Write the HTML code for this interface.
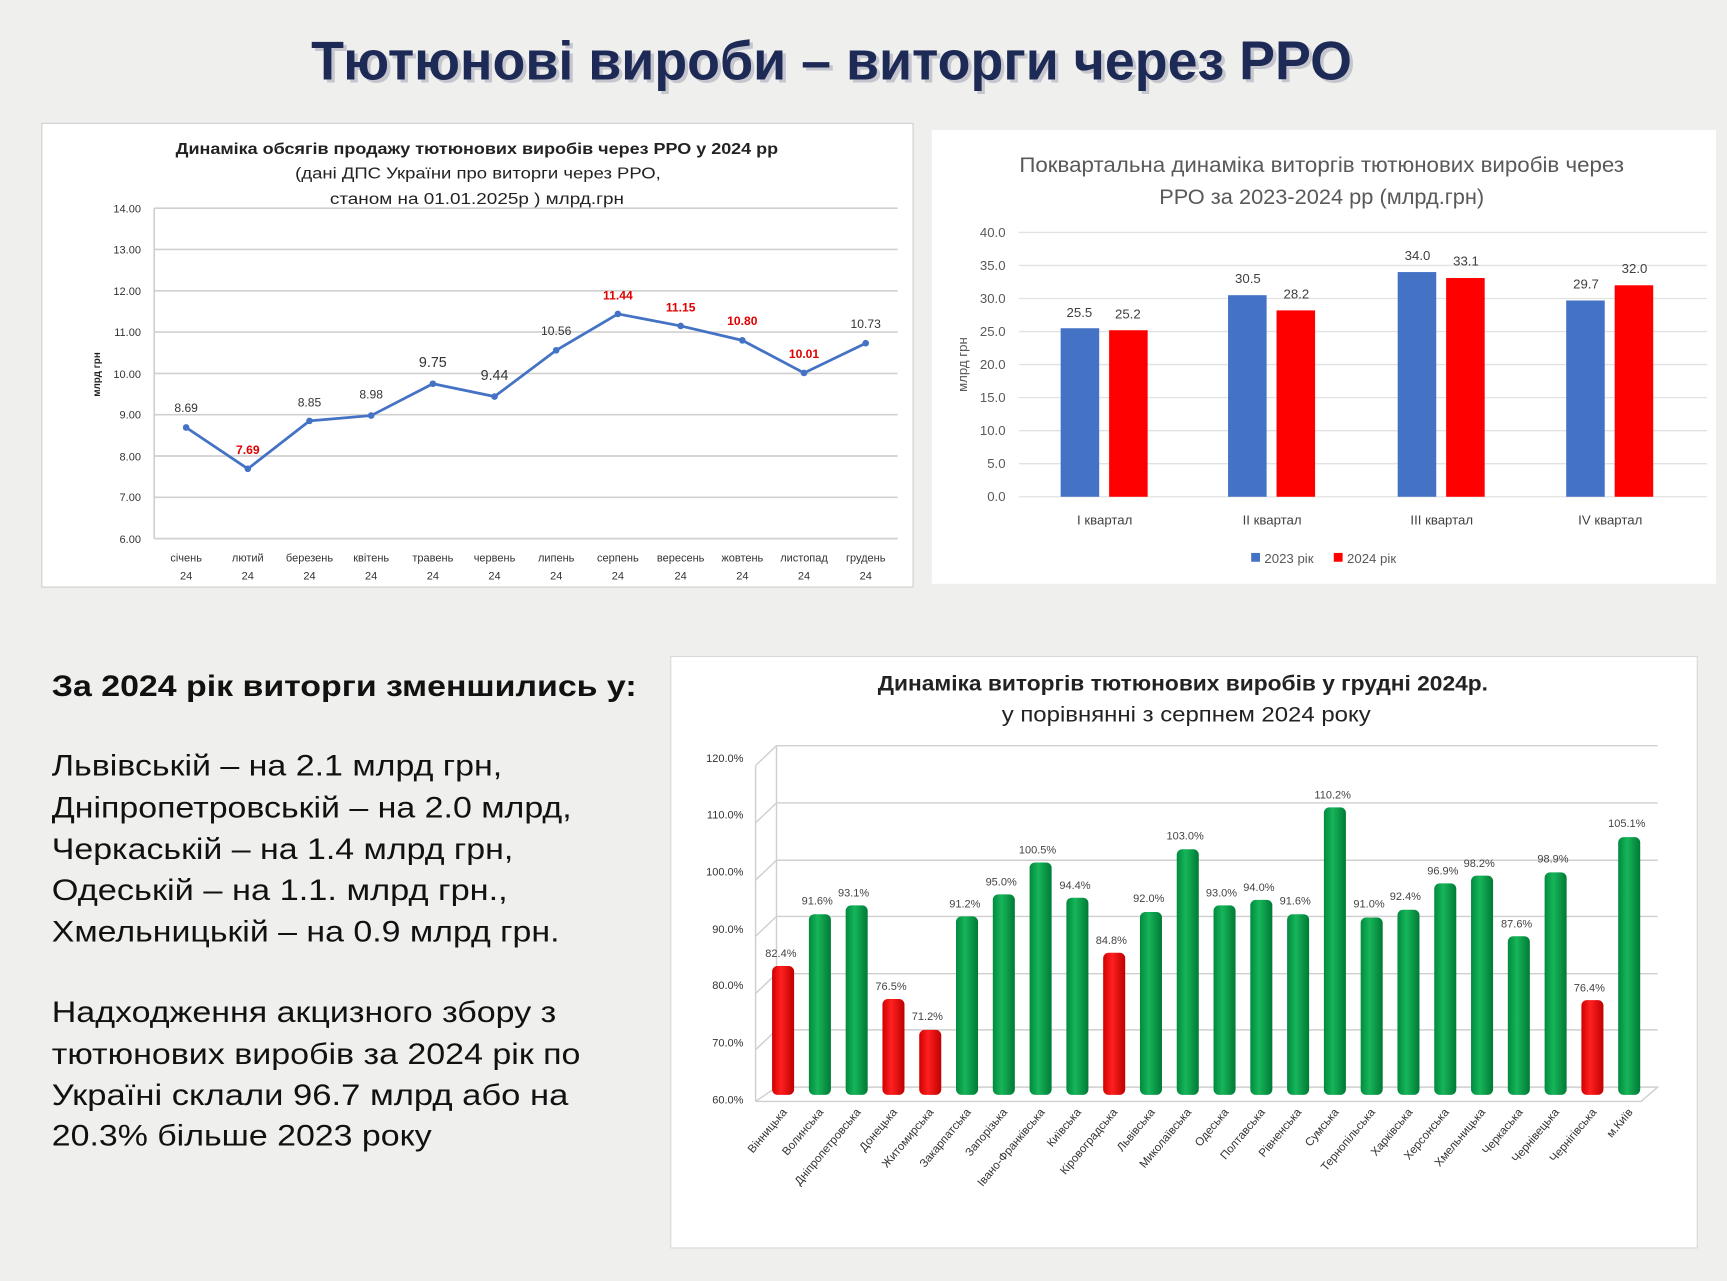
<!DOCTYPE html>
<html><head><meta charset="utf-8"><style>
html,body{margin:0;padding:0;background:#efefed;}
svg{display:block;}
text{font-family:"Liberation Sans",sans-serif;}
</style></head><body>
<svg width="1727" height="1281" viewBox="0 0 1568 1163" preserveAspectRatio="none" xmlns="http://www.w3.org/2000/svg">
<defs>
<linearGradient id="gg" x1="0" x2="1"><stop offset="0" stop-color="#008a3e"/><stop offset="0.4" stop-color="#17b55a"/><stop offset="1" stop-color="#007a35"/></linearGradient>
<linearGradient id="rg" x1="0" x2="1"><stop offset="0" stop-color="#d00000"/><stop offset="0.4" stop-color="#ff2020"/><stop offset="1" stop-color="#c00000"/></linearGradient>
</defs>
<rect width="1568" height="1163" fill="#efefed"/>
<text x="755" y="72" text-anchor="middle" font-size="50" font-weight="bold" fill="#aab" textLength="945" lengthAdjust="spacingAndGlyphs" dx="3" dy="3" opacity="0.6">Тютюнові вироби – виторги через РРО</text>
<text x="755" y="72" text-anchor="middle" font-size="50" font-weight="bold" fill="#1d2a55" textLength="945" lengthAdjust="spacingAndGlyphs">Тютюнові вироби – виторги через РРО</text>

<!-- Chart 1 -->
<rect x="38" y="112" width="791" height="421" fill="#fff" stroke="#cfcfcf"/>
<g font-size="14" font-weight="bold" fill="#222" text-anchor="middle">
<text x="433" y="140" textLength="547" lengthAdjust="spacingAndGlyphs">Динаміка обсягів продажу тютюнових виробів через РРО у 2024 рр</text></g>
<g font-size="14" fill="#222" text-anchor="middle">
<text x="434" y="162" textLength="332" lengthAdjust="spacingAndGlyphs">(дані ДПС України про виторги через РРО,</text>
<text x="433" y="185" textLength="267" lengthAdjust="spacingAndGlyphs">станом на 01.01.2025р ) млрд.грн</text></g>
<g stroke="#d0d0d0" stroke-width="1.5">
<line x1="140" y1="189" x2="815" y2="189"/><line x1="140" y1="226.5" x2="815" y2="226.5"/><line x1="140" y1="264" x2="815" y2="264"/><line x1="140" y1="301.5" x2="815" y2="301.5"/><line x1="140" y1="339" x2="815" y2="339"/><line x1="140" y1="376.5" x2="815" y2="376.5"/><line x1="140" y1="414" x2="815" y2="414"/><line x1="140" y1="451.5" x2="815" y2="451.5"/><line x1="140" y1="489" x2="815" y2="489"/>
<line x1="140" y1="189" x2="140" y2="489"/></g>
<g font-size="10" fill="#333" text-anchor="end">
<text x="128" y="193">14.00</text><text x="128" y="230">13.00</text><text x="128" y="268">12.00</text><text x="128" y="305">11.00</text><text x="128" y="343">10.00</text><text x="128" y="380">9.00</text><text x="128" y="418">8.00</text><text x="128" y="455">7.00</text><text x="128" y="493">6.00</text></g>
<text transform="translate(91,340) rotate(-90)" font-size="9" font-weight="bold" text-anchor="middle" fill="#222">млрд грн</text>
<polyline fill="none" stroke="#4472c4" stroke-width="2.5" points="169,388.1 225,425.6 281,382.1 337,377.3 393,348.4 449,360 505,318 561,285 618,295.9 674,309 730,338.6 786,311.6"/>
<g fill="#4472c4"><circle cx="169" cy="388.1" r="3"/><circle cx="225" cy="425.6" r="3"/><circle cx="281" cy="382.1" r="3"/><circle cx="337" cy="377.3" r="3"/><circle cx="393" cy="348.4" r="3"/><circle cx="449" cy="360" r="3"/><circle cx="505" cy="318" r="3"/><circle cx="561" cy="285" r="3"/><circle cx="618" cy="295.9" r="3"/><circle cx="674" cy="309" r="3"/><circle cx="730" cy="338.6" r="3"/><circle cx="786" cy="311.6" r="3"/></g>
<g font-size="11" text-anchor="middle" fill="#333">
<text x="169" y="374">8.69</text><text x="281" y="369">8.85</text><text x="337" y="362">8.98</text><text x="393" y="333" font-size="13">9.75</text><text x="449" y="345" font-size="13">9.44</text><text x="505" y="304">10.56</text><text x="786" y="298">10.73</text></g>
<g font-size="11" text-anchor="middle" fill="#e00000" font-weight="bold">
<text x="225" y="412">7.69</text><text x="561" y="272">11.44</text><text x="618" y="283">11.15</text><text x="674" y="295">10.80</text><text x="730" y="325">10.01</text></g>
<g font-size="10" text-anchor="middle" fill="#333">
<text x="169" y="510">січень</text><text x="225" y="510">лютий</text><text x="281" y="510">березень</text><text x="337" y="510">квітень</text><text x="393" y="510">травень</text><text x="449" y="510">червень</text><text x="505" y="510">липень</text><text x="561" y="510">серпень</text><text x="618" y="510">вересень</text><text x="674" y="510">жовтень</text><text x="730" y="510">листопад</text><text x="786" y="510">грудень</text>
<text x="169" y="526">24</text><text x="225" y="526">24</text><text x="281" y="526">24</text><text x="337" y="526">24</text><text x="393" y="526">24</text><text x="449" y="526">24</text><text x="505" y="526">24</text><text x="561" y="526">24</text><text x="618" y="526">24</text><text x="674" y="526">24</text><text x="730" y="526">24</text><text x="786" y="526">24</text></g>

<!-- Chart 2 -->
<rect x="846" y="118" width="712" height="412" fill="#fff"/>
<g font-size="19" fill="#595959" text-anchor="middle">
<text x="1200" y="156" textLength="549" lengthAdjust="spacingAndGlyphs">Поквартальна динаміка виторгів тютюнових виробів через</text>
<text x="1200" y="185" textLength="295" lengthAdjust="spacingAndGlyphs">РРО за 2023-2024 рр (млрд.грн)</text></g>
<g stroke="#e2e2e2" stroke-width="1.2">
<line x1="925" y1="211" x2="1550" y2="211"/><line x1="925" y1="241" x2="1550" y2="241"/><line x1="925" y1="271" x2="1550" y2="271"/><line x1="925" y1="301" x2="1550" y2="301"/><line x1="925" y1="331" x2="1550" y2="331"/><line x1="925" y1="361" x2="1550" y2="361"/><line x1="925" y1="391" x2="1550" y2="391"/><line x1="925" y1="421" x2="1550" y2="421"/><line x1="925" y1="451" x2="1550" y2="451"/></g>
<g font-size="12" fill="#595959" text-anchor="end">
<text x="913" y="215">40.0</text><text x="913" y="245">35.0</text><text x="913" y="275">30.0</text><text x="913" y="305">25.0</text><text x="913" y="335">20.0</text><text x="913" y="365">15.0</text><text x="913" y="395">10.0</text><text x="913" y="425">5.0</text><text x="913" y="455">0.0</text></g>
<text transform="translate(878,331) rotate(-90)" font-size="12" text-anchor="middle" fill="#595959">млрд грн</text>
<g fill="#4472c4"><rect x="963" y="298" width="35" height="153"/><rect x="1115" y="268" width="35" height="183"/><rect x="1269" y="247" width="35" height="204"/><rect x="1422" y="272.8" width="35" height="178.2"/></g>
<g fill="#ff0000"><rect x="1007" y="299.8" width="35" height="151.2"/><rect x="1159" y="281.8" width="35" height="169.2"/><rect x="1313" y="252.4" width="35" height="198.6"/><rect x="1466" y="259" width="35" height="192"/></g>
<g font-size="12" fill="#404040" text-anchor="middle">
<text x="980" y="288">25.5</text><text x="1024" y="289">25.2</text><text x="1133" y="257">30.5</text><text x="1177" y="271">28.2</text><text x="1287" y="236">34.0</text><text x="1331" y="241">33.1</text><text x="1440" y="262">29.7</text><text x="1484" y="248">32.0</text>
<text x="1003" y="476">І квартал</text><text x="1155" y="476">ІІ квартал</text><text x="1309" y="476">ІІІ квартал</text><text x="1462" y="476">IV квартал</text></g>
<rect x="1136" y="502" width="8" height="8" fill="#4472c4"/><text x="1148" y="511" font-size="12" fill="#595959">2023 рік</text>
<rect x="1211" y="502" width="8" height="8" fill="#ff0000"/><text x="1223" y="511" font-size="12" fill="#595959">2024 рік</text>

<!-- Left text -->
<text x="47" y="632" font-size="27" font-weight="bold" fill="#111" textLength="531" lengthAdjust="spacingAndGlyphs">За 2024 рік виторги зменшились у:</text>
<g font-size="27" fill="#111">
<text x="47" y="704" textLength="409" lengthAdjust="spacingAndGlyphs">Львівській – на 2.1 млрд грн,</text>
<text x="47" y="742" textLength="472" lengthAdjust="spacingAndGlyphs">Дніпропетровській – на 2.0 млрд,</text>
<text x="47" y="780" textLength="419" lengthAdjust="spacingAndGlyphs">Черкаській – на 1.4 млрд грн,</text>
<text x="47" y="817" textLength="414" lengthAdjust="spacingAndGlyphs">Одеській – на 1.1. млрд грн.,</text>
<text x="47" y="855" textLength="461" lengthAdjust="spacingAndGlyphs">Хмельницькій – на 0.9 млрд грн.</text>
<text x="47" y="928" textLength="458" lengthAdjust="spacingAndGlyphs">Надходження акцизного збору з</text>
<text x="47" y="966" textLength="480" lengthAdjust="spacingAndGlyphs">тютюнових виробів за 2024 рік по</text>
<text x="47" y="1003" textLength="469" lengthAdjust="spacingAndGlyphs">Україні склали 96.7 млрд або на</text>
<text x="47" y="1040" textLength="345" lengthAdjust="spacingAndGlyphs">20.3% більше 2023 року</text></g>

<!-- Chart 3 -->
<rect x="609" y="596" width="932" height="537" fill="#fff" stroke="#d8d8d8"/>
<text x="1074" y="627" font-size="19" font-weight="bold" fill="#222" text-anchor="middle" textLength="554" lengthAdjust="spacingAndGlyphs">Динаміка виторгів тютюнових виробів у грудні  2024р.</text>
<text x="1077" y="655" font-size="19" fill="#222" text-anchor="middle" textLength="335" lengthAdjust="spacingAndGlyphs">у порівнянні з серпнем 2024 року</text>
<g stroke="#cfcfcf" stroke-width="1.3" fill="none">
<polyline points="686,695 705,677 1505,677"/><polyline points="686,747 705,729 1505,729"/><polyline points="686,799 705,781 1505,781"/><polyline points="686,850 705,832 1505,832"/><polyline points="686,902 705,884 1505,884"/><polyline points="686,953 705,935 1505,935"/>
<polyline points="686,1000 705,987 1505,987 1490,1000 686,1000"/>
<line x1="686" y1="695" x2="686" y2="1000"/><line x1="705" y1="677" x2="705" y2="987"/></g>
<g font-size="10" fill="#333" text-anchor="end">
<text x="675" y="692">120.0%</text><text x="675" y="743">110.0%</text><text x="675" y="795">100.0%</text><text x="675" y="847">90.0%</text><text x="675" y="898">80.0%</text><text x="675" y="950">70.0%</text><text x="675" y="1002">60.0%</text></g>
<g>
<rect x="701" y="877" width="20" height="117" rx="5" fill="url(#rg)"/>
<rect x="734.4" y="830" width="20" height="164" rx="5" fill="url(#gg)"/>
<rect x="767.8" y="822" width="20" height="172" rx="5" fill="url(#gg)"/>
<rect x="801.2" y="907" width="20" height="87" rx="5" fill="url(#rg)"/>
<rect x="834.6" y="935" width="20" height="59" rx="5" fill="url(#rg)"/>
<rect x="868" y="832" width="20" height="162" rx="5" fill="url(#gg)"/>
<rect x="901.4" y="812" width="20" height="182" rx="5" fill="url(#gg)"/>
<rect x="934.8" y="783" width="20" height="211" rx="5" fill="url(#gg)"/>
<rect x="968.2" y="815" width="20" height="179" rx="5" fill="url(#gg)"/>
<rect x="1001.6" y="865" width="20" height="129" rx="5" fill="url(#rg)"/>
<rect x="1035" y="828" width="20" height="166" rx="5" fill="url(#gg)"/>
<rect x="1068.4" y="771" width="20" height="223" rx="5" fill="url(#gg)"/>
<rect x="1101.8" y="822" width="20" height="172" rx="5" fill="url(#gg)"/>
<rect x="1135.2" y="817" width="20" height="177" rx="5" fill="url(#gg)"/>
<rect x="1168.6" y="830" width="20" height="164" rx="5" fill="url(#gg)"/>
<rect x="1202" y="733" width="20" height="261" rx="5" fill="url(#gg)"/>
<rect x="1235.4" y="833" width="20" height="161" rx="5" fill="url(#gg)"/>
<rect x="1268.8" y="826" width="20" height="168" rx="5" fill="url(#gg)"/>
<rect x="1302.2" y="802" width="20" height="192" rx="5" fill="url(#gg)"/>
<rect x="1335.6" y="795" width="20" height="199" rx="5" fill="url(#gg)"/>
<rect x="1369" y="850" width="20" height="144" rx="5" fill="url(#gg)"/>
<rect x="1402.4" y="792" width="20" height="202" rx="5" fill="url(#gg)"/>
<rect x="1435.8" y="908" width="20" height="86" rx="5" fill="url(#rg)"/>
<rect x="1469.2" y="760" width="20" height="234" rx="5" fill="url(#gg)"/>
</g>
<g font-size="10" fill="#444" text-anchor="middle">
<text x="709" y="869">82.4%</text><text x="742" y="821">91.6%</text><text x="775" y="814">93.1%</text><text x="809" y="899">76.5%</text><text x="842" y="926">71.2%</text><text x="876" y="824">91.2%</text><text x="909" y="804">95.0%</text><text x="942" y="775">100.5%</text><text x="976" y="807">94.4%</text><text x="1009" y="857">84.8%</text><text x="1043" y="819">92.0%</text><text x="1076" y="762">103.0%</text><text x="1109" y="814">93.0%</text><text x="1143" y="809">94.0%</text><text x="1176" y="821">91.6%</text><text x="1210" y="725">110.2%</text><text x="1243" y="824">91.0%</text><text x="1276" y="817">92.4%</text><text x="1310" y="794">96.9%</text><text x="1343" y="787">98.2%</text><text x="1377" y="842">87.6%</text><text x="1410" y="783">98.9%</text><text x="1443" y="900">76.4%</text><text x="1477" y="751">105.1%</text></g>
<g font-size="10.5" fill="#333" text-anchor="end">
<text transform="translate(715,1010) rotate(-50)">Вінницька</text>
<text transform="translate(748,1010) rotate(-50)">Волинська</text>
<text transform="translate(782,1010) rotate(-50)">Дніпропетровська</text>
<text transform="translate(815,1010) rotate(-50)">Донецька</text>
<text transform="translate(848,1010) rotate(-50)">Житомирська</text>
<text transform="translate(882,1010) rotate(-50)">Закарпатська</text>
<text transform="translate(915,1010) rotate(-50)">Запорізька</text>
<text transform="translate(949,1010) rotate(-50)">Івано-Франківська</text>
<text transform="translate(982,1010) rotate(-50)">Київська</text>
<text transform="translate(1015,1010) rotate(-50)">Кіровоградська</text>
<text transform="translate(1049,1010) rotate(-50)">Львівська</text>
<text transform="translate(1082,1010) rotate(-50)">Миколаївська</text>
<text transform="translate(1116,1010) rotate(-50)">Одеська</text>
<text transform="translate(1149,1010) rotate(-50)">Полтавська</text>
<text transform="translate(1182,1010) rotate(-50)">Рівненська</text>
<text transform="translate(1216,1010) rotate(-50)">Сумська</text>
<text transform="translate(1249,1010) rotate(-50)">Тернопільська</text>
<text transform="translate(1283,1010) rotate(-50)">Харківська</text>
<text transform="translate(1316,1010) rotate(-50)">Херсонська</text>
<text transform="translate(1349,1010) rotate(-50)">Хмельницька</text>
<text transform="translate(1383,1010) rotate(-50)">Черкаська</text>
<text transform="translate(1416,1010) rotate(-50)">Чернівецька</text>
<text transform="translate(1450,1010) rotate(-50)">Чернігівська</text>
<text transform="translate(1483,1010) rotate(-50)">м.Київ</text>
</g>
</svg>
</body></html>
